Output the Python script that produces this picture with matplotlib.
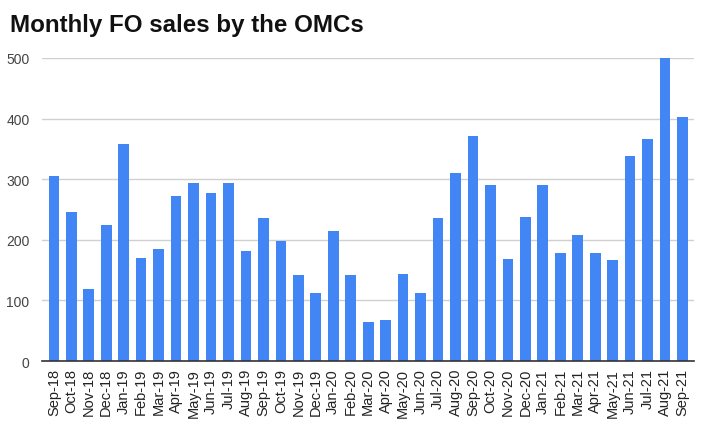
import matplotlib
matplotlib.use("Agg")
import matplotlib.pyplot as plt

months = ["Sep-18", "Oct-18", "Nov-18", "Dec-18", "Jan-19", "Feb-19", "Mar-19", "Apr-19",
          "May-19", "Jun-19", "Jul-19", "Aug-19", "Sep-19", "Oct-19", "Nov-19", "Dec-19",
          "Jan-20", "Feb-20", "Mar-20", "Apr-20", "May-20", "Jun-20", "Jul-20", "Aug-20",
          "Sep-20", "Oct-20", "Nov-20", "Dec-20", "Jan-21", "Feb-21", "Mar-21", "Apr-21",
          "May-21", "Jun-21", "Jul-21", "Aug-21", "Sep-21"]
sales = [306, 246, 118, 224, 358, 170, 184, 272,
         294, 278, 294, 182, 236, 198, 142, 113,
         214, 142, 64, 68, 144, 112, 236, 310,
         372, 290, 168, 238, 290, 178, 208, 178,
         166, 338, 366, 500, 402]
yticks = [0, 100, 200, 300, 400, 500]

plt.rcParams['font.family'] = ['Liberation Sans', 'DejaVu Sans']

fig = plt.figure(figsize=(7.08, 4.35), dpi=100)
ax = fig.add_axes([0.0593, 0.1678, 0.9207, 0.6966])

x = list(range(len(months)))
ax.bar(x, sales, width=0.61, color="#4285F4", zorder=3)

ax.set_ylim(0, 500)
ax.set_xlim(-0.68, len(months) - 1 + 0.65)
ax.set_yticks(yticks)
ax.set_yticklabels([str(v) for v in yticks], fontsize=10, color="#444444")
ax.set_xticks(x)
ax.set_xticklabels(months, rotation=90, fontsize=10.5, color="#222222")
ax.tick_params(axis='both', length=0)
ax.tick_params(axis='y', pad=9)
ax.tick_params(axis='x', pad=5)

ax.grid(axis='y', color="#d0d0d0", linewidth=1, zorder=0)
for s in ['top', 'right', 'left']:
    ax.spines[s].set_visible(False)
ax.spines['bottom'].set_color("#333333")
ax.spines['bottom'].set_linewidth(1.2)
ax.spines['bottom'].set_zorder(4)

fig.text(10 / 708, 1 - 32 / 435, "Monthly FO sales by the OMCs", fontsize=17.4,
         fontweight='bold', color="#111111", ha='left', va='baseline')

fig.savefig("out.png", dpi=100)
